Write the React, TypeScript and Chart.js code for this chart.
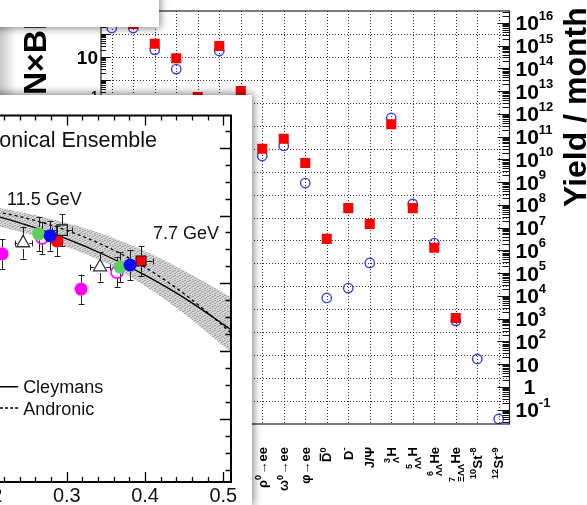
import React, { useEffect, useRef } from 'react';
import { Chart, registerables } from 'chart.js';

Chart.register(...registerables);

const FONT = '"Liberation Sans", Arial, Helvetica, sans-serif';

// ================= Background chart: particle yields =================
const particleLabels = [
  'π^{-}', 'K^{+}', 'K^{-}', 'Λ', 'Ξ^{-}', '#bar{Λ}', 'Ω^{-}',
  'ρ^{0}→ee', 'ω^{0}→ee', 'φ→ee', '#bar{D}^{0}', 'D^{-}', 'J/Ψ',
  '^{3}_{Λ}H', '^{5}_{ΛΛ}H', '^{6}_{ΛΛ}He', '^{7}_{ΞΛΛ}He', '^{10}St^{-8}', '^{12}St^{-9}',
];
const yieldRed = [
  1.3e16, 9e15, 1.2e15, 2.8e14, 5.5e12, 9.5e14, 1e13,
  2.9e10, 8e10, 6.9e9, 3.2e6, 7.2e7, 1.45e7,
  3.5e11, 7.2e7, 1.3e6, 1.07e3, null, null,
];
const yieldBlue = [
  5.9e15, 5.9e15, 6.5e14, 9.3e13, 2.5e12, 5.8e14, 5.5e12,
  1.4e10, 3.9e10, 9.1e8, 8.1e3, 2.2e4, 2.8e5,
  6.6e11, 1.1e8, 2.1e6, 800, 17, 0.039,
];
const multiplicityDecades = [-15, 3]; // left axis (N×BR), log10 range
const yieldDecades = [-1.63, 16.52]; // right axis (Yield / month), log10 range
const leftAxisTitle = 'N×BR';
const rightAxisTitle = 'Yield / month';

// ================= Overlay chart: Grand Canonical Ensemble =================
const muB = [0.15, 0.2, 0.25, 0.3, 0.35, 0.4, 0.45, 0.5, 0.52];
const cleymansT = [0.1628, 0.1604, 0.1571, 0.1531, 0.1482, 0.1424, 0.1357, 0.1279, 0.1246];
const andronicT = [0.163, 0.1615, 0.1591, 0.1556, 0.1509, 0.1447, 0.1369, 0.1274, 0.1231];
const bandUpperT = [0.165, 0.1628, 0.1606, 0.1578, 0.1542, 0.1495, 0.1437, 0.1372, 0.1345];
const bandLowerT = [0.1605, 0.1575, 0.1546, 0.1507, 0.146, 0.1392, 0.131, 0.1215, 0.1178];
// [muB, T, error in T, error in muB]
const magentaFilled = [[0.2174, 0.1487, 0.0044, 0], [0.3182, 0.1383, 0.0043, 0]];
const openTriangles = [[0.2442, 0.1519, 0.0046, 0.011], [0.3425, 0.1448, 0.0043, 0.0128]];
const greenPoints = [[0.264, 0.1546, 0.005, 0], [0.3681, 0.1448, 0.0044, 0]];
const magentaOpen = [[0.2684, 0.1534, 0.0047, 0], [0.3642, 0.1433, 0.0045, 0]];
const bluePoints = [[0.2787, 0.154, 0.0044, 0], [0.3808, 0.1454, 0.0044, 0]];
const redCircle = [[0.2876, 0.1525, 0.0044, 0]];
const redSquare = [[0.3949, 0.1466, 0.0044, 0.015]];
const openSquare = [[0.294, 0.1557, 0.0047, 0.0128]];
const muBRange = [0, 0.5098];
const tRange = [0.0814, 0.1895];
const muBTickLabels = [0.2, 0.3, 0.4, 0.5];
const panelTitle = 'Grand Canonical Ensemble';
const energyLabels = ['11.5 GeV', '7.7 GeV'];
const legendLabels = ['Cleymans', 'Andronic'];

// ---------- rich text helpers ----------
type Seg = { t: string; k: 'n' | 'sup' | 'sub' | 'bar' };
function parseRich(s: string): Seg[] {
  const out: Seg[] = [];
  let i = 0;
  const special = (j: number) =>
    ((s[j] === '^' || s[j] === '_') && s[j + 1] === '{') || s.startsWith('#bar{', j);
  while (i < s.length) {
    if ((s[i] === '^' || s[i] === '_') && s[i + 1] === '{') {
      const j = s.indexOf('}', i);
      out.push({ t: s.slice(i + 2, j), k: s[i] === '^' ? 'sup' : 'sub' });
      i = j + 1;
    } else if (s.startsWith('#bar{', i)) {
      const j = s.indexOf('}', i);
      out.push({ t: s.slice(i + 5, j), k: 'bar' });
      i = j + 1;
    } else {
      let j = i;
      while (j < s.length && !special(j)) j++;
      out.push({ t: s.slice(i, j), k: 'n' });
      i = j;
    }
  }
  return out;
}

function drawRotatedLabel(ctx: CanvasRenderingContext2D, label: string, cx: number, topY: number, size: number) {
  const segs = parseRich(label);
  const big = `700 ${size}px ${FONT}`;
  const small = `700 ${Math.round(size * 0.68)}px ${FONT}`;
  const items: { t: string; font: string; dx: number; dy: number; bar: boolean; w: number }[] = [];
  let x = 0;
  for (let i = 0; i < segs.length; i++) {
    const s = segs[i];
    if (s.k === 'sup' || s.k === 'sub') {
      ctx.font = small;
      const w1 = ctx.measureText(s.t).width;
      let w = w1;
      items.push({ t: s.t, font: small, dx: x, dy: s.k === 'sup' ? -size * 0.42 : size * 0.25, bar: false, w: w1 });
      const n = segs[i + 1];
      if (n && (n.k === 'sup' || n.k === 'sub') && n.k !== s.k) {
        const w2 = ctx.measureText(n.t).width;
        items.push({ t: n.t, font: small, dx: x, dy: n.k === 'sup' ? -size * 0.42 : size * 0.25, bar: false, w: w2 });
        w = Math.max(w1, w2);
        i++;
      }
      x += w + 0.5;
    } else {
      ctx.font = big;
      const w = ctx.measureText(s.t).width;
      items.push({ t: s.t, font: big, dx: x, dy: 0, bar: s.k === 'bar', w });
      x += w;
    }
  }
  const total = x;
  ctx.save();
  ctx.translate(cx, topY);
  ctx.rotate(-Math.PI / 2);
  ctx.textAlign = 'left';
  ctx.textBaseline = 'alphabetic';
  const base = size * 0.36;
  for (const it of items) {
    ctx.font = it.font;
    ctx.fillText(it.t, -total + it.dx, base + it.dy);
    if (it.bar) ctx.fillRect(-total + it.dx + 1, base - size * 0.72 - 2.4, it.w - 2, 1.4);
  }
  ctx.restore();
}

function drawPowerLabel(
  ctx: CanvasRenderingContext2D, k: number, x: number, y: number,
  size: number, supSize: number, align: 'left' | 'right'
) {
  const big = `700 ${size}px ${FONT}`;
  const small = `700 ${supSize}px ${FONT}`;
  const baseY = y + size * 0.36;
  ctx.textAlign = 'left';
  ctx.textBaseline = 'alphabetic';
  if (k === 0 || k === 1) {
    const t = k === 0 ? '1' : '10';
    ctx.font = big;
    const w = ctx.measureText(t).width;
    const sx = align === 'left' ? (k === 0 ? x + 14 - w / 2 : x) : x - w;
    ctx.fillText(t, sx, baseY);
    return;
  }
  ctx.font = big;
  const w1 = ctx.measureText('10').width;
  ctx.font = small;
  const e = String(k);
  const w2 = ctx.measureText(e).width;
  const sx = align === 'left' ? x : x - w1 - w2;
  ctx.font = big;
  ctx.fillText('10', sx, baseY);
  ctx.font = small;
  ctx.fillText(e, sx + w1, baseY - size * 0.5);
}

const yieldPlugin = {
  id: 'yieldDecor',
  beforeDatasetsDraw(chart: any) {
    const { ctx, chartArea: a, scales } = chart;
    const xs = scales.x;
    const yl = scales.yL;
    ctx.save();
    ctx.strokeStyle = 'rgba(0,0,0,0.8)';
    ctx.lineWidth = 1;
    ctx.setLineDash([1, 2]);
    ctx.beginPath();
    for (let i = 0; i < particleLabels.length; i++) {
      const x = Math.round(xs.getPixelForValue(i)) + 0.5;
      ctx.moveTo(x, a.top);
      ctx.lineTo(x, a.bottom);
    }
    for (let k = multiplicityDecades[0] + 1; k < multiplicityDecades[1]; k++) {
      const y = Math.round(yl.getPixelForValue(Math.pow(10, k))) + 0.5;
      ctx.moveTo(a.left, y);
      ctx.lineTo(a.right, y);
    }
    ctx.stroke();
    ctx.restore();
  },
  afterDatasetsDraw(chart: any) {
    const { ctx, chartArea: a, scales } = chart;
    const xs = scales.x;
    const yl = scales.yL;
    const yr = scales.yR;
    ctx.save();
    // frame
    ctx.strokeStyle = '#222';
    ctx.lineWidth = 1.2;
    ctx.strokeRect(a.left, a.top, a.right - a.left, a.bottom - a.top);
    // ticks
    ctx.lineWidth = 1;
    ctx.strokeStyle = '#111';
    ctx.beginPath();
    for (let k = multiplicityDecades[0]; k < multiplicityDecades[1]; k++) {
      for (let m = 1; m <= 9; m++) {
        const y = Math.round(yl.getPixelForValue(m * Math.pow(10, k))) + 0.5;
        const len = m === 1 ? 9 : 5;
        ctx.moveTo(a.left, y);
        ctx.lineTo(a.left + len, y);
      }
    }
    for (let k = Math.floor(yieldDecades[0]); k <= Math.floor(yieldDecades[1]); k++) {
      for (let m = 1; m <= 9; m++) {
        const lv = k + Math.log10(m);
        if (lv < yieldDecades[0] || lv > yieldDecades[1]) continue;
        const y = Math.round(yr.getPixelForValue(m * Math.pow(10, k))) + 0.5;
        const len = m === 1 ? 12 : 7;
        ctx.moveTo(a.right, y);
        ctx.lineTo(a.right - len, y);
      }
    }
    ctx.stroke();
    // right axis labels
    ctx.fillStyle = '#000';
    for (let k = Math.ceil(yieldDecades[0]); k <= Math.floor(yieldDecades[1]); k++) {
      drawPowerLabel(ctx, k, a.right + 6, yr.getPixelForValue(Math.pow(10, k)), 21, 13, 'left');
    }
    // left axis labels (every second decade)
    for (let k = multiplicityDecades[1]; k >= multiplicityDecades[0]; k -= 2) {
      drawPowerLabel(ctx, k, a.left - 3, yl.getPixelForValue(Math.pow(10, k)), 19, 12, 'right');
    }
    // category labels
    for (let i = 0; i < particleLabels.length; i++) {
      drawRotatedLabel(ctx, particleLabels[i], xs.getPixelForValue(i), a.bottom + 23, 13);
    }
    // axis titles
    ctx.font = `700 32px ${FONT}`;
    ctx.textAlign = 'left';
    ctx.textBaseline = 'alphabetic';
    ctx.save();
    ctx.translate(46, 95);
    ctx.rotate(-Math.PI / 2);
    ctx.fillText(leftAxisTitle, 0, 0);
    ctx.restore();
    ctx.save();
    ctx.translate(a.right + 76.5, 207);
    ctx.rotate(-Math.PI / 2);
    ctx.fillText(rightAxisTitle, 0, 0);
    ctx.restore();
    ctx.restore();
  },
};

function yieldConfig(): any {
  return {
    type: 'line',
    data: {
      labels: particleLabels,
      datasets: [
        {
          data: yieldRed, yAxisID: 'yR', showLine: false, pointStyle: 'rect', pointRadius: 7.1,
          backgroundColor: '#ff0000', borderColor: '#ff0000', borderWidth: 0,
        },
        {
          data: yieldBlue, yAxisID: 'yR', showLine: false, pointStyle: 'circle', pointRadius: 4.7,
          backgroundColor: 'rgba(0,0,0,0)', borderColor: '#3b3bff', pointBorderWidth: 1.4, borderWidth: 1.4,
        },
      ],
    },
    options: {
      responsive: false,
      animation: false,
      devicePixelRatio: 1,
      events: [],
      layout: { padding: { left: 101, right: 77.5, top: 11, bottom: 81 } },
      plugins: { legend: { display: false }, tooltip: { enabled: false } },
      scales: {
        x: { type: 'category', offset: true, display: false },
        yR: {
          type: 'logarithmic', display: false, bounds: 'data',
          min: Math.pow(10, yieldDecades[0]), max: Math.pow(10, yieldDecades[1]),
        },
        yL: {
          type: 'logarithmic', display: false, bounds: 'data',
          min: Math.pow(10, multiplicityDecades[0]), max: Math.pow(10, multiplicityDecades[1]),
        },
      },
    },
    plugins: [yieldPlugin],
  };
}

// ---------- overlay ----------
type Group = { pts: number[][]; r: number };
const overlayGroups: Group[] = [
  { pts: openSquare, r: 5.5 },
  { pts: redSquare, r: 5.5 },
  { pts: bluePoints, r: 6.5 },
  { pts: greenPoints, r: 6.5 },
  { pts: redCircle, r: 6.5 },
  { pts: magentaOpen, r: 6 },
  { pts: openTriangles, r: 6 },
  { pts: magentaFilled, r: 6.5 },
];

function drawErrorBars(chart: any) {
  const { ctx, scales } = chart;
  const xs = scales.x;
  const ys = scales.y;
  ctx.save();
  ctx.strokeStyle = '#222';
  ctx.lineWidth = 1;
  ctx.beginPath();
  const cap = 3;
  for (const g of overlayGroups) {
    for (const p of g.pts) {
      const px = xs.getPixelForValue(p[0]);
      const py = ys.getPixelForValue(p[1]);
      if (p[2] > 0) {
        const top = ys.getPixelForValue(p[1] + p[2]);
        const bot = ys.getPixelForValue(p[1] - p[2]);
        const cx = Math.round(px) + 0.5;
        ctx.moveTo(cx, py - g.r); ctx.lineTo(cx, top);
        ctx.moveTo(cx - cap, Math.round(top) + 0.5); ctx.lineTo(cx + cap, Math.round(top) + 0.5);
        ctx.moveTo(cx, py + g.r); ctx.lineTo(cx, bot);
        ctx.moveTo(cx - cap, Math.round(bot) + 0.5); ctx.lineTo(cx + cap, Math.round(bot) + 0.5);
      }
      if (p[3] > 0) {
        const l = xs.getPixelForValue(p[0] - p[3]);
        const r = xs.getPixelForValue(p[0] + p[3]);
        const cy = Math.round(py) + 0.5;
        ctx.moveTo(px - g.r, cy); ctx.lineTo(l, cy);
        ctx.moveTo(Math.round(l) + 0.5, cy - cap); ctx.lineTo(Math.round(l) + 0.5, cy + cap);
        ctx.moveTo(px + g.r, cy); ctx.lineTo(r, cy);
        ctx.moveTo(Math.round(r) + 0.5, cy - cap); ctx.lineTo(Math.round(r) + 0.5, cy + cap);
      }
    }
  }
  ctx.stroke();
  ctx.restore();
}

const overlayPlugin = {
  id: 'overlayDecor',
  afterDatasetDraw(chart: any, args: any) {
    if (chart.data.datasets[args.index].label === legendLabels[0]) drawErrorBars(chart);
  },
  afterDraw(chart: any) {
    const { ctx, chartArea: a, scales } = chart;
    const xs = scales.x;
    const ys = scales.y;
    ctx.save();
    ctx.strokeStyle = '#000';
    ctx.lineWidth = 2;
    ctx.strokeRect(a.left, a.top, a.right - a.left, a.bottom - a.top);
    ctx.lineWidth = 1.3;
    ctx.beginPath();
    for (let i = 0; i <= 25; i++) {
      const v = i * 0.02;
      if (v > muBRange[1]) break;
      const x = Math.round(xs.getPixelForValue(v)) + 0.5;
      const len = i % 5 === 0 ? 10 : 5;
      ctx.moveTo(x, a.bottom); ctx.lineTo(x, a.bottom - len);
      ctx.moveTo(x, a.top); ctx.lineTo(x, a.top + len);
    }
    for (let i = 0; i <= 40; i++) {
      const v = 0.08 + i * 0.005;
      if (v < tRange[0] || v > tRange[1]) continue;
      const y = Math.round(ys.getPixelForValue(v)) + 0.5;
      const len = i % 4 === 0 ? 11 : 5.5;
      ctx.moveTo(a.right, y); ctx.lineTo(a.right - len, y);
      ctx.moveTo(a.left, y); ctx.lineTo(a.left + len, y);
    }
    ctx.stroke();
    // tick labels
    ctx.fillStyle = '#111';
    ctx.font = `400 20px ${FONT}`;
    ctx.textAlign = 'center';
    ctx.textBaseline = 'alphabetic';
    for (const v of muBTickLabels) {
      ctx.fillText(v.toFixed(1), xs.getPixelForValue(v), a.bottom + 20);
    }
    // title
    ctx.font = `400 21.5px ${FONT}`;
    ctx.textAlign = 'right';
    ctx.fillText(panelTitle, xs.getPixelForValue(0.4153), ys.getPixelForValue(0.1802));
    // energy labels
    ctx.font = `400 18px ${FONT}`;
    ctx.textAlign = 'left';
    ctx.fillText(energyLabels[0], xs.getPixelForValue(0.2237), ys.getPixelForValue(0.1631));
    ctx.fillText(energyLabels[1], xs.getPixelForValue(0.4102), ys.getPixelForValue(0.1531));
    // legend
    const lx0 = xs.getPixelForValue(0.17);
    const lx1 = xs.getPixelForValue(0.2378);
    const tx = xs.getPixelForValue(0.2442);
    const y1 = ys.getPixelForValue(0.1095);
    const y2 = ys.getPixelForValue(0.1032);
    ctx.strokeStyle = '#000';
    ctx.lineWidth = 1.5;
    ctx.beginPath();
    ctx.moveTo(lx0, y1); ctx.lineTo(lx1, y1);
    ctx.stroke();
    ctx.setLineDash([3, 2]);
    ctx.beginPath();
    ctx.moveTo(lx0, y2); ctx.lineTo(lx1, y2);
    ctx.stroke();
    ctx.setLineDash([]);
    ctx.fillText(legendLabels[0], tx, y1 + 6.5);
    ctx.fillText(legendLabels[1], tx, y2 + 6.5);
    ctx.restore();
  },
};

function makePattern(): CanvasPattern | string {
  const c = document.createElement('canvas');
  c.width = 5;
  c.height = 5;
  const g = c.getContext('2d');
  if (!g) return '#c4c4c4';
  g.fillStyle = '#d6d6d6';
  g.fillRect(0, 0, 5, 5);
  g.fillStyle = '#a2a2a2';
  const dots = [[0, 0], [3, 1], [1, 2], [4, 3], [2, 4], [2, 1], [4, 0], [0, 3]];
  for (const d of dots) g.fillRect(d[0], d[1], 1, 1);
  const p = g.createPattern(c, 'repeat');
  return p || '#c4c4c4';
}

const toXY = (pts: number[][]) => pts.map((p) => ({ x: p[0], y: p[1] }));
const curve = (ys: number[]) => muB.map((m, i) => ({ x: m, y: ys[i] }));

function overlayConfig(): any {
  const pattern = makePattern();
  const marker = (pts: number[][], style: string, r: number, bg: string, border: string, bw: number) => ({
    data: toXY(pts), showLine: false, pointStyle: style, pointRadius: r,
    backgroundColor: bg, borderColor: border, borderWidth: bw, pointBorderWidth: bw,
  });
  const none = 'rgba(0,0,0,0)';
  return {
    type: 'line',
    data: {
      datasets: [
        marker(openSquare, 'rect', 7.4, none, '#111', 1.2),
        marker(redSquare, 'rect', 7.1, '#ff0000', '#111', 1),
        marker(bluePoints, 'circle', 6.5, '#0a0aff', '#0a0aff', 0),
        marker(greenPoints, 'circle', 6.5, '#5ccf5c', '#5ccf5c', 0),
        marker(redCircle, 'circle', 6.5, '#ff0000', '#ff0000', 0),
        marker(magentaOpen, 'circle', 6, none, '#ff00ff', 1.5),
        marker(openTriangles, 'triangle', 7.5, none, '#333', 1.3),
        marker(magentaFilled, 'circle', 6.5, '#ff00ff', '#ff00ff', 0),
        {
          label: legendLabels[0], data: curve(cleymansT), borderColor: '#000', borderWidth: 1.3,
          pointRadius: 0, tension: 0.4, cubicInterpolationMode: 'monotone', fill: false,
        },
        {
          label: legendLabels[1], data: curve(andronicT), borderColor: '#000', borderWidth: 1.3,
          borderDash: [3, 3], pointRadius: 0, tension: 0.4, cubicInterpolationMode: 'monotone', fill: false,
        },
        {
          data: curve(bandUpperT), borderWidth: 0, borderColor: none, pointRadius: 0,
          tension: 0.4, cubicInterpolationMode: 'monotone', fill: '+1', backgroundColor: pattern,
        },
        {
          data: curve(bandLowerT), borderWidth: 0, borderColor: none, pointRadius: 0,
          tension: 0.4, cubicInterpolationMode: 'monotone', fill: false,
        },
      ],
    },
    options: {
      responsive: false,
      animation: false,
      devicePixelRatio: 1,
      events: [],
      layout: { padding: { left: 32, right: 21, top: 20.5, bottom: 23 } },
      plugins: { legend: { display: false }, tooltip: { enabled: false } },
      scales: {
        x: { type: 'linear', display: false, min: muBRange[0], max: muBRange[1] },
        y: { type: 'linear', display: false, min: tRange[0], max: tRange[1] },
      },
    },
    plugins: [overlayPlugin],
  };
}

export default function App() {
  const yieldRef = useRef<HTMLCanvasElement>(null);
  const ovRef = useRef<HTMLCanvasElement>(null);
  useEffect(() => {
    const c1 = new Chart(yieldRef.current as HTMLCanvasElement, yieldConfig());
    const c2 = new Chart(ovRef.current as HTMLCanvasElement, overlayConfig());
    return () => {
      c1.destroy();
      c2.destroy();
    };
  }, []);
  return (
    <div style={{ position: 'fixed', left: 0, top: 0, width: 587, height: 505, overflow: 'hidden', background: '#fff' }}>
      <div
        style={{
          position: 'absolute', left: 0, top: 0, width: 16, height: 505,
          background: 'linear-gradient(to right, rgba(0,0,0,0.22), rgba(0,0,0,0))',
        }}
      />
      <canvas
        ref={yieldRef}
        width={587}
        height={505}
        style={{ position: 'absolute', left: 0, top: 0, width: 587, height: 505 }}
      />
      <div
        style={{
          position: 'absolute', left: -20, top: -20, width: 179, height: 47,
          background: '#fff', boxShadow: '0 0 8px 1px rgba(0,0,0,0.5)',
        }}
      />
      <canvas
        ref={ovRef}
        width={452}
        height={410}
        style={{
          position: 'absolute', left: -200, top: 95, width: 452, height: 410,
          background: '#fff', boxShadow: '0 0 9px 1px rgba(0,0,0,0.55)',
        }}
      />
    </div>
  );
}
